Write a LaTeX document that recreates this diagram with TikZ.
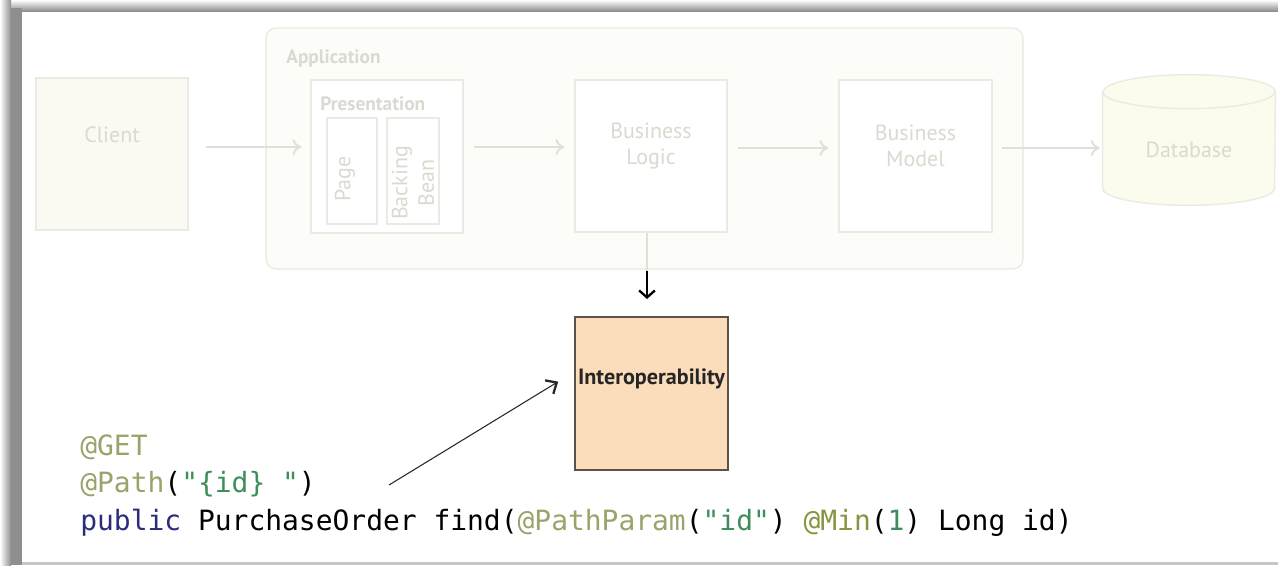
\documentclass[tikz,border=0pt]{standalone}
\usepackage{fontspec}
\setmonofont{DejaVu Sans Mono}
\newfontfamily\labfont{PT Sans}
\usetikzlibrary{arrows.meta}

\definecolor{fadetxt}{HTML}{DADAD1}
\definecolor{fadeline}{HTML}{EBEBE3}
\definecolor{fadearrow}{HTML}{E0E0D8}
\definecolor{cream}{HTML}{FAFAF3}
\definecolor{appfill}{HTML}{FCFCF8}
\definecolor{dbfill}{HTML}{FBFBEE}
\definecolor{peach}{HTML}{FBDDBB}
\definecolor{peachline}{HTML}{5C524A}
\definecolor{annot}{HTML}{9AA36B}
\definecolor{annotdark}{HTML}{86953F}
\definecolor{strg}{HTML}{3E8E5C}
\definecolor{kw}{HTML}{2B2D7C}
\definecolor{frame}{HTML}{8E8E8E}

\tikzstyle{pt} = [coordinate]
\tikzstyle{layer} = [draw=fadeline, fill=white, line width=0.8pt, inner sep=0]
\tikzstyle{labtxt} = [font=\labfont\fontsize{12.5}{15}\selectfont, text=fadetxt, align=center, inner sep=0]
\tikzstyle{app} = [draw=fadeline, fill=appfill, rounded corners=0.2cm, line width=0.8pt, minimum width=15.14cm, minimum height=4.82cm]
\tikzstyle{caption} = [font=\labfont\bfseries\fontsize{11}{13}\selectfont, text=fadetxt, anchor=west, inner sep=0]
\tikzstyle{flow} = [draw=fadearrow, line width=1.1pt, -{To[length=5pt,width=9pt]}, shorten <=0.2cm, shorten >=0.2cm]
\tikzstyle{cyl} = [draw=fadeline, line width=0.8pt]
\tikzstyle{link} = [draw=black, line width=1.3pt, -{Straight Barb[length=4pt,width=9pt]}]
\tikzstyle{pointer} = [draw=black!85, line width=0.6pt, -{Straight Barb[length=5pt,width=9pt,line width=1.3pt]}]
\tikzstyle{code} = [font=\ttfamily\fontsize{15.9}{21}\selectfont, anchor=base west, inner sep=0]

\begin{document}
\begin{tikzpicture}[x=0.02cm, y=-0.02cm]
\useasboundingbox (0,0) rectangle (1278,565);

%Frame
	\fill[white] (0,0) rectangle (1278,565);
	\fill[top color=white, bottom color=frame] (0,0) rectangle (1278,11);
	\fill[left color=white, right color=frame] (0,0) rectangle (11,565);
	\fill[frame] (11,8) rectangle (22,565);
	\fill[gray!45] (22,562) rectangle (1278,565);

%Nodes
	\node[app] (app) at (644.5,148.5) {};
	\node[caption] (apptxt) at (286,59) {Application};

	\node[layer, fill=cream, minimum width=3.04cm, minimum height=3.04cm,
	      label={[labtxt, yshift=0.38cm]center:Client}] (client) at (112,154) {};

	\node[layer, minimum width=3.04cm, minimum height=3.06cm] (pres) at (387,156.5) {};
	\node[caption] (prestxt) at (320,104) {Presentation};
	\node[layer, minimum width=1.0cm, minimum height=2.12cm,
	      label={[labtxt, xshift=-0.14cm, yshift=-0.16cm, rotate=90]center:Page}] (page) at (352,171) {};
	\node[layer, minimum width=1.04cm, minimum height=2.12cm,
	      label={[labtxt, yshift=-0.24cm, rotate=90]center:Backing\\Bean}] (bean) at (413,171) {};

	\node[layer, minimum width=3.04cm, minimum height=3.04cm,
	      label={[labtxt, yshift=0.2cm]center:Business\\Logic}] (logic) at (651,156) {};
	\node[layer, minimum width=3.06cm, minimum height=3.04cm,
	      label={[labtxt, yshift=0.2cm]center:Business\\Model}] (model) at (915.5,156) {};

	\node[minimum width=3.44cm, minimum height=2.6cm, inner sep=0] (db) at (1189,140) {};
	\fill[dbfill] ([yshift=-0.34cm]db.north west) -- ([yshift=0.34cm]db.south west)
	   arc[start angle=180, end angle=360, x radius=1.72cm, y radius=0.34cm]
	   -- ([yshift=-0.34cm]db.north east)
	   arc[start angle=0, end angle=180, x radius=1.72cm, y radius=0.34cm] -- cycle;
	\draw[cyl] ([yshift=-0.34cm]db.north west) -- ([yshift=0.34cm]db.south west)
	   arc[start angle=180, end angle=360, x radius=1.72cm, y radius=0.34cm]
	   -- ([yshift=-0.34cm]db.north east)
	   arc[start angle=0, end angle=180, x radius=1.72cm, y radius=0.34cm];
	\draw[cyl] ([yshift=-0.34cm]db.north west)
	   arc[start angle=180, end angle=360, x radius=1.72cm, y radius=0.34cm];
	\node[labtxt, yshift=-0.2cm] (dbtxt) at (db) {Database};

	\node[draw=peachline, fill=peach, line width=1.2pt, minimum width=3.06cm, minimum height=3.06cm,
	      label={[font=\labfont\bfseries\fontsize{12.6}{14}\selectfont, text=black!85, yshift=0.29cm]center:Interoperability}] (interop) at (651.5,393.5) {};

	\node[code] (get) at (80,455) {\color{annot}@GET};
	\node[code] (path) at (80,492) {{\color{annot}@Path}({\color{strg}"\{id\} "})};
	\node[code] (sig) at (80,530) {{\color{kw}public} PurchaseOrder find({\color{annot}@PathParam}({\color{strg}"id"}) {\color{annotdark}@Min}({\color{strg}1}) Long id)};

%Connections
	\node[pt] (row) at (0,147) {};
	\node[pt] (row2) at (0,148) {};
	\draw[flow, shorten <=0.34cm, shorten >=0.18cm] (client.east |- row) -- (pres.west |- row);
	\draw[flow] (pres.east |- row) -- (logic.west |- row);
	\draw[flow] (logic.east |- row2) -- (model.west |- row2);
	\draw[flow, shorten <=0.18cm, shorten >=0.06cm] (model.east |- row2) -- (db.west |- row2);

	\node[pt] (tap) at (647,271) {};
	\draw[draw=fadearrow, line width=1pt] (logic.south -| tap) -- (tap);
	\draw[link, shorten >=0.34cm] (tap) -- (tap |- interop.north);

	\node[pt] (codept) at (389,485) {};
	\draw[pointer, shorten >=0.37cm] (codept) -- ([yshift=0.43cm]interop.west);

\end{tikzpicture}
\end{document}
